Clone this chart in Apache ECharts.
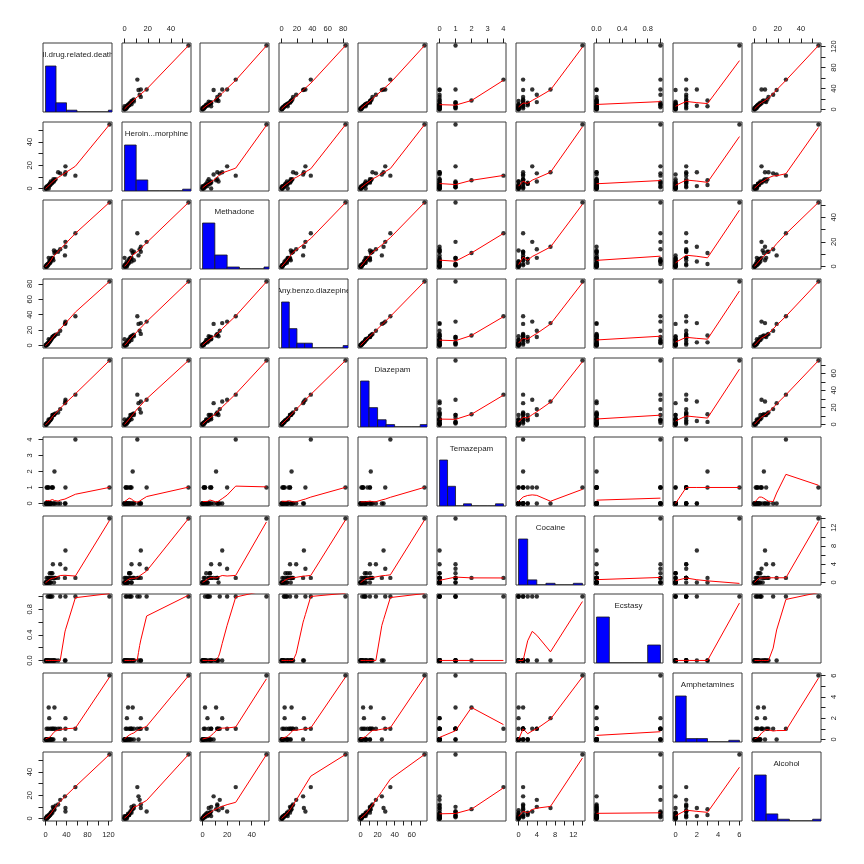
<!DOCTYPE html>
<html><head><meta charset="utf-8">
<script src="https://cdn.jsdelivr.net/npm/echarts@6/dist/echarts.min.js"></script>
<style>html,body{margin:0;padding:0;background:#fff}#c{width:864px;height:864px}</style>
</head><body><div id="c"></div>
<script>
// ---- variable names (diagonal labels) ----
const varNames = ["All.drug.related.deaths","Heroin...morphine","Methadone","Any.benzo.diazepine","Diazepam","Temazepam","Cocaine","Ecstasy","Amphetamines","Alcohol"];

// ---- data: 32 observations (areas), one array per variable ----
const allDrug   = [38,12,7,6,5,10,28,11,3,3,2,57,1,13,37,122,19,16,6,2,15,38,0,8,17,5,1,9,24,4,14,9];
const heroin    = [14,5,2,0,2,6,13,4,2,1,0,11,0,5,12,55,8,6,3,1,8,19,0,4,7,2,1,3,14,1,6,4];
const methadone = [16,7,4,7,1,4,14,6,0,1,1,27,0,6,9,52,12,13,2,1,5,20,0,3,11,2,0,3,12,2,7,5];
const benzo     = [29,9,4,8,2,7,19,8,1,2,1,38,1,11,28,83,14,12,4,1,12,31,0,5,13,3,0,7,15,3,11,6];
const diazepam  = [27,8,4,6,2,6,18,7,1,2,0,35,1,11,25,75,13,11,3,1,11,29,0,5,12,3,0,6,14,2,11,5];
const temazepam = [0,1,0,0,0,0,0,0,0,1,0,4,0,1,0,1,0,0,1,1,0,1,0,0,2,1,0,0,0,0,1,0];
const cocaine   = [7,1,0,1,0,0,4,2,0,0,0,1,0,2,1,14,1,0,0,1,1,3,0,2,1,1,0,0,1,0,4,1];
const ecstasy   = [0,0,1,0,0,1,1,0,0,0,0,1,0,1,0,1,0,0,0,0,0,1,0,0,0,0,0,0,0,1,0,1];
const amphet    = [2,1,2,0,0,0,1,0,0,0,0,1,0,0,0,6,1,1,3,1,0,1,0,0,3,1,0,0,1,0,1,1];
const alcohol   = [9,6,2,2,1,5,16,4,0,2,1,27,0,5,19,55,11,7,3,1,9,6,0,3,8,2,0,4,12,1,10,3];

// ---- axis ticks and tick labels per variable ----
const tickValues = [
  [0,20,40,60,80,100,120],
  [0,10,20,30,40,50],
  [0,10,20,30,40,50],
  [0,20,40,60,80],
  [0,10,20,30,40,50,60,70],
  [0,1,2,3,4],
  [0,2,4,6,8,10,12,14],
  [0,0.2,0.4,0.6,0.8,1.0],
  [0,1,2,3,4,5,6],
  [0,10,20,30,40,50]
];
const labelValues = [
  [0,40,80,120],
  [0,20,40],
  [0,20,40],
  [0,20,40,60,80],
  [0,20,40,60],
  [0,1,2,3,4],
  [0,4,8,12],
  [0,0.4,0.8],
  [0,2,4,6],
  [0,20,40]
];
const labelTexts = [
  ["0","40","80","120"],
  ["0","20","40"],
  ["0","20","40"],
  ["0","20","40","60","80"],
  ["0","20","40","60"],
  ["0","1","2","3","4"],
  ["0","4","8","12"],
  ["0.0","0.4","0.8"],
  ["0","2","4","6"],
  ["0","20","40"]
];

const vars = [allDrug, heroin, methadone, benzo, diazepam, temazepam, cocaine, ecstasy, amphet, alcohol];
const NV = vars.length;

// ---- R-like lowess (port of clowess) ----
function lowess(xIn, yIn, f, nsteps) {
  const n = xIn.length;
  const idx = xIn.map((v, i) => i).sort((a, b) => (xIn[a] - xIn[b]) || (a - b));
  const x = [0], y = [0];
  idx.forEach(i => { x.push(xIn[i]); y.push(yIn[i]); });
  const ys = new Array(n + 1).fill(0), rw = new Array(n + 1).fill(0), res = new Array(n + 1).fill(0);
  const delta = 0.01 * (x[n] - x[1]);
  const ns = Math.max(2, Math.min(n, Math.floor(f * n + 1e-7)));
  function lowest(xs, nleft, nright, userw) {
    const range = x[n] - x[1];
    const h = Math.max(xs - x[nleft], x[nright] - xs);
    const h9 = 0.999 * h, h1 = 0.001 * h;
    let a = 0, j = nleft;
    while (j <= n) {
      res[j] = 0;
      const r = Math.abs(x[j] - xs);
      if (r <= h9) {
        if (r <= h1) res[j] = 1;
        else { const q = r / h; const t = 1 - q * q * q; res[j] = t * t * t; }
        if (userw) res[j] *= rw[j];
        a += res[j];
      } else if (x[j] > xs) break;
      j++;
    }
    const nrt = j - 1;
    if (a <= 0) return [false, 0];
    for (j = nleft; j <= nrt; j++) res[j] /= a;
    if (h > 0) {
      a = 0;
      for (j = nleft; j <= nrt; j++) a += res[j] * x[j];
      let b = xs - a, c = 0;
      for (j = nleft; j <= nrt; j++) c += res[j] * (x[j] - a) * (x[j] - a);
      if (Math.sqrt(c) > 0.001 * range) {
        b /= c;
        for (j = nleft; j <= nrt; j++) res[j] *= (b * (x[j] - a) + 1);
      }
    }
    let s = 0;
    for (j = nleft; j <= nrt; j++) s += res[j] * y[j];
    return [true, s];
  }
  let iter = 1;
  while (iter <= nsteps + 1) {
    let nleft = 1, nright = ns, last = 0, i = 1;
    for (;;) {
      if (nright < n) {
        const d1 = x[i] - x[nleft], d2 = x[nright + 1] - x[i];
        if (d1 > d2) { nleft++; nright++; continue; }
      }
      const out = lowest(x[i], nleft, nright, iter > 1);
      ys[i] = out[0] ? out[1] : y[i];
      if (last < i - 1) {
        const denom = x[i] - x[last];
        for (let j = last + 1; j < i; j++) {
          const alpha = (x[j] - x[last]) / denom;
          ys[j] = alpha * ys[i] + (1 - alpha) * ys[last];
        }
      }
      last = i;
      const cut = x[last] + delta;
      for (i = last + 1; i <= n; i++) {
        if (x[i] > cut) break;
        if (x[i] === x[last]) { ys[i] = ys[last]; last = i; }
      }
      i = Math.max(last + 1, i - 1);
      if (last >= n) break;
    }
    for (let k = 1; k <= n; k++) res[k] = y[k] - ys[k];
    let sc = 0;
    for (let k = 1; k <= n; k++) sc += Math.abs(res[k]);
    sc /= n;
    if (iter > nsteps) break;
    const arr = [];
    for (let k = 1; k <= n; k++) arr.push(Math.abs(res[k]));
    arr.sort((a, b) => a - b);
    const m1 = Math.floor(n / 2);
    let cmad;
    if (n % 2 === 0) { const m2 = n - m1 - 1; cmad = 3 * (arr[m1] + arr[m2]); }
    else cmad = 6 * arr[m1];
    if (cmad < 1e-7 * sc) break;
    const c9 = 0.999 * cmad, c1 = 0.001 * cmad;
    for (let k = 1; k <= n; k++) {
      const r = Math.abs(res[k]);
      if (r <= c1) rw[k] = 1;
      else if (r <= c9) { const q = r / cmad; rw[k] = (1 - q * q) * (1 - q * q); }
      else rw[k] = 0;
    }
    iter++;
  }
  const outPts = [];
  for (let k = 1; k <= n; k++) outPts.push([x[k], ys[k]]);
  return outPts;
}

// ---- R-like histogram breaks (Sturges + pretty) ----
function prettyUnit(lo, hi, ndiv, h, h5) {
  const cell = (hi - lo) / ndiv;
  const base = Math.pow(10, Math.floor(Math.log10(cell)));
  let unit = base, ns;
  if ((ns = 2 * base) - cell < h * (cell - unit)) { unit = ns;
    if ((ns = 5 * base) - cell < h5 * (cell - unit)) { unit = ns;
      if ((ns = 10 * base) - cell < h * (cell - unit)) unit = ns; } }
  return unit;
}
function histBins(v) {
  const lo = Math.min(...v), hi = Math.max(...v);
  const nclass = Math.ceil(Math.log2(v.length) + 1);
  const unit = prettyUnit(lo, hi, nclass, 1.5, 2.75);
  const a = Math.floor(lo / unit + 1e-7), b = Math.ceil(hi / unit - 1e-7);
  const breaks = [];
  for (let k = a; k <= b; k++) breaks.push(k * unit);
  const fuzz = 1e-7 * unit;
  const counts = new Array(breaks.length - 1).fill(0);
  v.forEach(val => {
    for (let k = 0; k < counts.length; k++) {
      const left = k === 0 ? breaks[0] - fuzz : breaks[k] + fuzz;
      if (val >= left && val <= breaks[k + 1] + fuzz) { counts[k]++; break; }
    }
  });
  const mx = Math.max(...counts);
  return counts.map((c, k) => [breaks[k], breaks[k + 1], c / mx]);
}

// ---- layout ----
const PITCH = 78.8, X0 = 42.7, Y0 = 42.7, SZ = 69;
const ext = vars.map(v => { const lo = Math.min(...v), hi = Math.max(...v), d = hi - lo; return [lo - 0.04 * d, hi + 0.04 * d]; });
const FONT = '"Liberation Sans", Arial, sans-serif';

const grids = [], xAxes = [], yAxes = [], series = [];
for (let r = 0; r < NV; r++) {
  for (let c = 0; c < NV; c++) {
    const k = r * NV + c;
    grids.push({ left: Math.round(X0 + PITCH * c), top: Math.round(Y0 + PITCH * r), width: SZ, height: SZ,
      show: true, borderColor: '#3a3a3a', borderWidth: 1, backgroundColor: 'transparent' });
    const showTop = (r === 0 && c % 2 === 1), showBottom = (r === NV - 1 && c % 2 === 0);
    const showX = showTop || showBottom;
    xAxes.push({
      type: 'value', gridIndex: k, min: ext[c][0], max: ext[c][1], position: showTop ? 'top' : 'bottom',
      axisLine: { show: false, onZero: false }, splitLine: { show: false },
      axisTick: { show: showX, length: 4.5, customValues: tickValues[c], lineStyle: { color: '#222', width: 1 } },
      axisLabel: { show: showX, customValues: labelValues[c], margin: 10, fontSize: 7.5, fontFamily: FONT, color: '#222',
        formatter: (val) => { const i = labelValues[c].findIndex(t => Math.abs(t - val) < 1e-9); return i >= 0 ? labelTexts[c][i] : ''; } }
    });
    const diag = (r === c);
    const showLeft = (c === 0 && r % 2 === 1), showRight = (c === NV - 1 && r % 2 === 0);
    const showY = showLeft || showRight;
    yAxes.push({
      type: 'value', gridIndex: k, min: diag ? 0 : ext[r][0], max: diag ? 1.5 : ext[r][1], position: showRight ? 'right' : 'left',
      axisLine: { show: false, onZero: false }, splitLine: { show: false },
      axisTick: { show: showY, length: 4.5, customValues: tickValues[r], lineStyle: { color: '#222', width: 1 } },
      axisLabel: { show: showY, customValues: labelValues[r], rotate: 90, margin: 9, fontSize: 7.5, fontFamily: FONT, color: '#222',
        formatter: (val) => { const i = labelValues[r].findIndex(t => Math.abs(t - val) < 1e-9); return i >= 0 ? labelTexts[r][i] : ''; } }
    });
    if (diag) {
      series.push({
        type: 'custom', xAxisIndex: k, yAxisIndex: k, clip: true, silent: true, animation: false,
        data: histBins(vars[c]),
        renderItem: (params, api) => {
          const p0 = api.coord([api.value(0), 0]), p1 = api.coord([api.value(1), api.value(2)]);
          return { type: 'rect', shape: { x: p0[0], y: p1[1], width: p1[0] - p0[0], height: p0[1] - p1[1] },
            style: { fill: '#0000FF', stroke: '#1a1a1a', lineWidth: 0.8 } };
        }
      });
      series.push({
        type: 'custom', xAxisIndex: k, yAxisIndex: k, clip: true, silent: true, animation: false,
        data: [[(ext[c][0] + ext[c][1]) / 2, 1.5]],
        renderItem: (params, api) => {
          const p = api.coord([api.value(0), api.value(1)]);
          return { type: 'text', x: p[0], y: p[1] + 11.5,
            style: { text: varNames[c], fill: '#222', fontSize: 8, fontFamily: FONT, align: 'center', verticalAlign: 'middle' } };
        }
      });
    } else {
      const xs = vars[c], ysv = vars[r];
      series.push({
        type: 'scatter', xAxisIndex: k, yAxisIndex: k, silent: true, animation: false, symbolSize: 4.4,
        itemStyle: { color: '#000' }, data: xs.map((v, i) => [v, ysv[i]])
      });
      series.push({
        type: 'line', xAxisIndex: k, yAxisIndex: k, silent: true, animation: false, symbol: 'none', showSymbol: false,
        clip: true, lineStyle: { color: '#ff0000', width: 1 }, data: lowess(xs, ysv, 2 / 3, 3)
      });
    }
  }
}

const chart = echarts.init(document.getElementById('c'), null, { renderer: 'canvas' });
chart.setOption({ animation: false, backgroundColor: '#fff', grid: grids, xAxis: xAxes, yAxis: yAxes, series: series });
</script>
</body></html>
